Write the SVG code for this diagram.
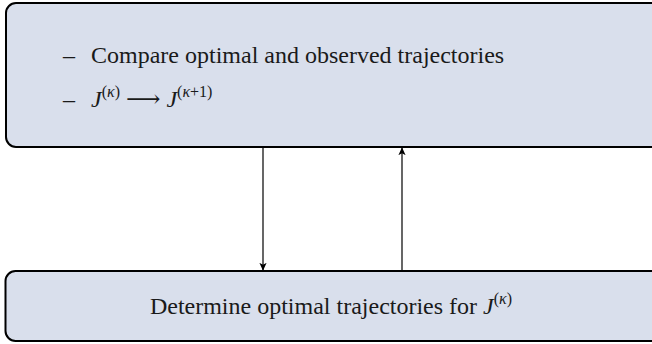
<svg xmlns="http://www.w3.org/2000/svg" width="652" height="344" viewBox="0 0 652 344">
<defs>
<style>
.box{fill:#d9dfec;stroke:#000;stroke-width:2}
.t{font-family:"Liberation Serif","DejaVu Serif","Times New Roman",serif;font-size:24px;fill:#1a1a1a}
.i{font-style:italic}
.sup{font-size:16px}
.conn{stroke:#000;stroke-width:1.2;fill:none}
</style>
<marker id="ah" viewBox="0 0 10 10" refX="9" refY="5" markerWidth="8" markerHeight="8" markerUnits="userSpaceOnUse" orient="auto">
<path d="M0,0.5 L10,5 L0,9.5 L2.5,5 Z" fill="#000"/>
</marker>
</defs>
<rect width="652" height="344" fill="#fff"/>
<g id="node-compare">
<rect class="box" x="6" y="3" width="670" height="144" rx="10"/>
<text class="t" x="63" y="63">–</text>
<text class="t" x="91" y="63">Compare optimal and observed trajectories</text>
<text class="t" x="63" y="107">–</text>
<text class="t" x="91" y="107"><tspan class="i">J</tspan><tspan class="sup" dy="-10">(<tspan class="i">κ</tspan>)</tspan><tspan dy="10"> ⟶ </tspan><tspan class="i">J</tspan><tspan class="sup" dy="-10">(<tspan class="i">κ</tspan>+1)</tspan></text>
</g>
<g id="node-determine">
<rect class="box" x="5.5" y="271" width="670" height="70" rx="10"/>
<text class="t" x="331" y="314" text-anchor="middle">Determine optimal trajectories for <tspan class="i">J</tspan><tspan class="sup" dy="-10">(<tspan class="i">κ</tspan>)</tspan></text>
</g>
<g id="connectors">
<line class="conn" x1="263" y1="148" x2="263" y2="270" marker-end="url(#ah)"/>
<line class="conn" x1="402" y1="270" x2="402" y2="148" marker-end="url(#ah)"/>
</g>
</svg>
